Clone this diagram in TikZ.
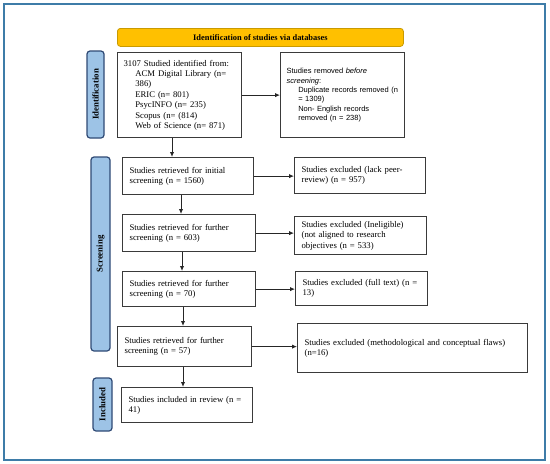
\documentclass[tikz,border=0pt]{standalone}
\usepackage{fontspec}
\setmainfont{Liberation Serif}
\newfontfamily\arialf{Liberation Sans}
\usetikzlibrary{arrows.meta}
\definecolor{framec}{HTML}{3E7CA8}
\definecolor{titlefill}{HTML}{FFC000}
\definecolor{titledraw}{HTML}{C99A00}
\definecolor{sidefill}{HTML}{9DC3E6}
\definecolor{sidedraw}{HTML}{2F4A75}
\definecolor{boxdraw}{HTML}{3A3A3A}
\newcommand\ind{\hspace*{11.7pt}}
\begin{document}
\begin{tikzpicture}[x=1pt,y=-1pt,
  box/.style={draw=boxdraw, line width=1.25pt, rectangle, anchor=north west, align=left,
    font=\fontsize{8.7}{10.4}\selectfont, inner xsep=7pt, inner ysep=0pt},
  abox/.style={box, font=\arialf\fontsize{7.5}{9.3}\selectfont, inner xsep=6pt},
  side/.style={draw=sidedraw, fill=sidefill, line width=1.2pt, rounded corners=3pt,
    font=\bfseries\fontsize{8.8}{10}\selectfont, inner sep=0pt},
  titlebox/.style={draw=titledraw, fill=titlefill, line width=0.8pt, rounded corners=3pt,
    anchor=north west, font=\bfseries\fontsize{8.4}{10}\selectfont, inner sep=0pt},
  arr/.style={draw=black!85, line width=1pt, -{Latex[length=5pt,width=4.5pt]}}
]
\useasboundingbox (0,0) rectangle (550,464);
\draw[framec, line width=1.4pt] (4,4) rectangle (545,460);

\node[titlebox, minimum width=286pt, minimum height=18pt] (title) at (117,28) {Identification of studies via databases};

\node[side, rotate=90, minimum width=87pt, minimum height=17pt] (s1) at (95.5,94.5) {Identification};
\node[side, rotate=90, minimum width=194pt, minimum height=19pt] (s2) at (100.5,254) {Screening};
\node[side, rotate=90, minimum width=53pt, minimum height=19pt] (s3) at (102.5,404.5) {Included};

\node[box, inner xsep=6pt, minimum width=124pt, minimum height=85pt, text width=112pt] (b1) at (117,52)
 {3107 Studied identified from:\\
  \ind ACM Digital Library (n=\\
  \ind 386)\\
  \ind ERIC (n= 801)\\
  \ind PsycINFO (n= 235)\\
  \ind Scopus (n= (814)\\
  \ind Web of Science (n= 871)};
\node[abox, minimum width=124pt, minimum height=85pt, text width=112pt] (r1) at (280,52)
 {Studies removed \textit{before}\\
  \textit{screening}:\\
  \ind Duplicate records removed (n\\
  \ind = 1309)\\
  \ind Non- English records\\
  \ind removed (n = 238)};

\node[box, minimum width=131pt, minimum height=37pt, text width=117pt] (b2) at (122,157)
 {Studies retrieved for initial\\screening (n = 1560)};
\node[box, minimum width=131pt, minimum height=36pt, text width=117pt] (r2) at (294,157)
 {Studies excluded (lack peer-\\review) (n = 957)};

\node[box, minimum width=133pt, minimum height=37pt, text width=119pt] (b3) at (122,214)
 {Studies retrieved for further\\screening (n = 603)};
\node[box, minimum width=132pt, minimum height=38pt, text width=118pt] (r3) at (294,216)
 {Studies excluded (Ineligible)\\(not aligned to research\\objectives (n = 533)};

\node[box, minimum width=133pt, minimum height=35pt, text width=119pt] (b4) at (122,271)
 {Studies retrieved for further\\screening (n = 70)};
\node[box, minimum width=132pt, minimum height=34pt, text width=118pt] (r4) at (295,271)
 {Studies excluded (full text) (n =\\13)};

\node[box, minimum width=134pt, minimum height=40pt, text width=120pt] (b5) at (117,326)
 {Studies retrieved for further\\screening (n = 57)};
\node[box, minimum width=230pt, minimum height=49pt, text width=216pt] (r5) at (297,323)
 {Studies excluded (methodological and conceptual flaws)\\(n=16)};

\node[box, minimum width=131pt, minimum height=35pt, text width=117pt] (b6) at (121,387)
 {Studies included in review (n =\\41)};

\coordinate (v1) at (172,0);
\coordinate (v2) at (181,0);
\coordinate (v3) at (182,0);
\coordinate (v4) at (183,0);
\coordinate (v5) at (183,0);

\draw[arr] (b1.east) -- (r1.west);
\draw[arr] (b2.east) -- (b2.east -| r2.west);
\draw[arr] (b3.east) -- (b3.east -| r3.west);
\draw[arr] (b4.east) -- (b4.east -| r4.west);
\draw[arr] (b5.east) -- (b5.east -| r5.west);

\draw[arr] (v1 |- b1.south) -- (v1 |- b2.north);
\draw[arr] (v2 |- b2.south) -- (v2 |- b3.north);
\draw[arr] (v3 |- b3.south) -- (v3 |- b4.north);
\draw[arr] (v4 |- b4.south) -- (v4 |- b5.north);
\draw[arr] (v5 |- b5.south) -- (v5 |- b6.north);
\end{tikzpicture}
\end{document}
